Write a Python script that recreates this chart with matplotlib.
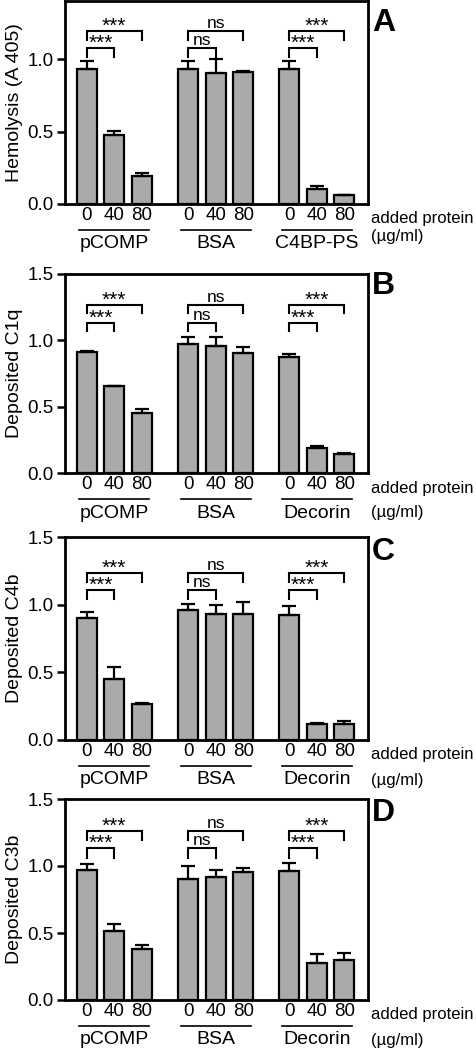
import numpy as np
import matplotlib
matplotlib.use("Agg")
import matplotlib.pyplot as plt
import matplotlib.transforms as mtransforms

plt.rcParams['font.family'] = ['Liberation Sans', 'DejaVu Sans']

# bar positions: 3 groups of 3 doses
doses = ["0", "40", "80"]
group_centers = [0.0, 3.7, 7.37]

# one entry per panel
letters = ["A", "B", "C", "D"]
ylabels = ["Hemolysis (A 405)", "Deposited C1q", "Deposited C4b", "Deposited C3b"]
groups = [["pCOMP", "BSA", "C4BP-PS"],
          ["pCOMP", "BSA", "Decorin"],
          ["pCOMP", "BSA", "Decorin"],
          ["pCOMP", "BSA", "Decorin"]]

vals_a = [0.933, 0.479, 0.194, 0.933, 0.903, 0.908, 0.933, 0.106, 0.060]
errs_a = [0.055, 0.026, 0.023, 0.055, 0.097, 0.011, 0.055, 0.018, 0.005]
vals_b = [0.913, 0.654, 0.453, 0.975, 0.958, 0.903, 0.878, 0.187, 0.142]
errs_b = [0.007, 0.005, 0.027, 0.050, 0.067, 0.047, 0.022, 0.017, 0.012]
vals_c = [0.905, 0.448, 0.263, 0.959, 0.929, 0.934, 0.927, 0.118, 0.118]
errs_c = [0.042, 0.093, 0.012, 0.044, 0.071, 0.086, 0.064, 0.010, 0.022]
vals_d = [0.970, 0.515, 0.378, 0.903, 0.915, 0.958, 0.963, 0.279, 0.299]
errs_d = [0.045, 0.050, 0.035, 0.099, 0.055, 0.030, 0.062, 0.062, 0.054]
values = [vals_a, vals_b, vals_c, vals_d]
errors = [errs_a, errs_b, errs_c, errs_d]

# significance brackets: (0 vs 40 height, 0 vs 80 height, leg drop)
brackets = [(1.076, 1.191, 0.062),
            (1.132, 1.269, 0.065),
            (1.106, 1.234, 0.066),
            (1.132, 1.264, 0.070)]
sig_labels = ["***", "ns", "***"]
ytops = [1.4, 1.5, 1.5, 1.5]

# axes boxes in pixels (top, bottom) on a 476x1050 canvas
boxes = [(1, 204), (274, 473), (537, 740), (799, 1000)]
letter_off = [22, 12, 15, 14]
unit_off = [33, 40, 40, 40]

W, H = 476, 1050
fig = plt.figure(figsize=(W / 100, H / 100), dpi=100)

x = np.concatenate([c + np.arange(3) for c in group_centers])

for k in range(4):
    top, bot = boxes[k]
    ax = fig.add_axes([65 / W, 1 - bot / H, 303 / W, (bot - top) / H])
    v = np.array(values[k])
    e = np.array(errors[k])
    ax.bar(x, v, width=0.73, color='#aaaaaa', edgecolor='black', linewidth=1.6,
           yerr=[np.zeros_like(e), e], capsize=5,
           error_kw=dict(elinewidth=1.6, capthick=1.6, ecolor='black'))
    ax.set_xlim(-0.79, 10.23)
    ax.set_ylim(0, ytops[k])
    ax.set_yticks([t for t in [0, 0.5, 1.0, 1.5] if t <= ytops[k]])
    ax.yaxis.set_major_formatter(matplotlib.ticker.FormatStrFormatter('%.1f'))
    ax.set_xticks(x, doses * 3)
    ax.tick_params(axis='x', length=0, pad=2, labelsize=13.5)
    ax.tick_params(axis='y', length=6, width=1.8, pad=2, labelsize=13.5)
    for s in ax.spines.values():
        s.set_linewidth(2)
    ax.set_ylabel(ylabels[k], fontsize=14, labelpad=3)

    # brackets
    lo, hi, drop = brackets[k]
    for g, c in enumerate(group_centers):
        for (x1, x2, h) in [(c, c + 1, lo), (c, c + 2, hi)]:
            ax.plot([x1, x1, x2, x2], [h - drop, h, h, h - drop], color='black',
                    lw=1.5, clip_on=False, solid_joinstyle='miter')
            lab = sig_labels[g]
            if lab == "***":
                ax.annotate(lab, xy=((x1 + x2) / 2, h), xytext=(0, -1),
                            textcoords='offset pixels', ha='center', va='baseline',
                            fontsize=15)
            else:
                ax.annotate(lab, xy=((x1 + x2) / 2, h), xytext=(0, 3),
                            textcoords='offset pixels', ha='center', va='baseline',
                            fontsize=12.5)

    # group underlines and names
    line_tr = mtransforms.offset_copy(ax.get_xaxis_transform(), fig, y=-26, units='dots')
    for g, c in enumerate(group_centers):
        ax.plot([c - 0.28, c + 2.28], [0, 0], color='black', lw=1.2,
                transform=line_tr, clip_on=False)
        ax.annotate(groups[k][g], xy=(c + 1, 0), xycoords=('data', 'axes fraction'),
                    xytext=(0, -40), textcoords='offset pixels', ha='center',
                    va='center', fontsize=14)

    ax.annotate("added protein", xy=(1, 0), xycoords='axes fraction', xytext=(3, -15),
                textcoords='offset pixels', ha='left', va='center', fontsize=12)
    ax.annotate("(\u00b5g/ml)", xy=(1, 0), xycoords='axes fraction', xytext=(3, -unit_off[k]),
                textcoords='offset pixels', ha='left', va='center', fontsize=12)
    ax.annotate(letters[k], xy=(1, 1), xycoords='axes fraction',
                xytext=(4, -letter_off[k]), textcoords='offset pixels',
                ha='left', va='center', fontsize=23, fontweight='bold')

fig.savefig("out.png", dpi=100)
